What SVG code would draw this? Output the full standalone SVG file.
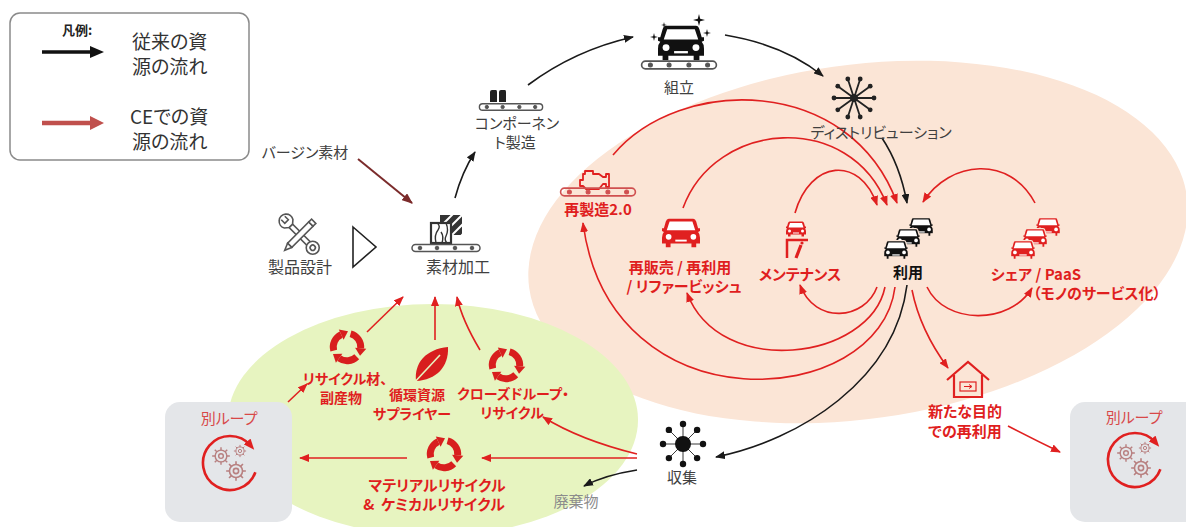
<svg xmlns="http://www.w3.org/2000/svg" xmlns:xlink="http://www.w3.org/1999/xlink" width="1186" height="527" viewBox="0 0 1186 527">
<style>
text{font-family:"Noto Sans CJK JP","Noto Sans",sans-serif;text-anchor:middle;font-feature-settings:"palt" 1;}
.g{fill:#404040;font-size:15px;}
.r{fill:#e01e1e;font-size:15px;font-weight:bold;}
.r14{fill:#e01e1e;font-size:14px;font-weight:bold;}
.k{fill:#111;font-size:15px;font-weight:bold;}
.lg{fill:#333;font-size:19px;text-anchor:start;}
.cb{fill:none;stroke:#1a1a1a;stroke-width:1.6;marker-end:url(#mb);}
.cr{fill:none;stroke:#e02020;stroke-width:1.6;marker-end:url(#mr);}
.gearc{fill:none;stroke:#b88080;stroke-width:1.1;}
</style>
<defs>
<marker id="mr" viewBox="0 0 10 8" refX="9" refY="4" markerWidth="10" markerHeight="8" markerUnits="userSpaceOnUse" orient="auto"><path d="M0,0 L10,4 L0,8 Z" fill="#e02020"/></marker>
<marker id="mb" viewBox="0 0 10 8" refX="9" refY="4" markerWidth="10" markerHeight="8" markerUnits="userSpaceOnUse" orient="auto"><path d="M0,0 L10,4 L0,8 Z" fill="#1a1a1a"/></marker>
<marker id="md" viewBox="0 0 10 8" refX="9" refY="4" markerWidth="11" markerHeight="9" markerUnits="userSpaceOnUse" orient="auto"><path d="M0,0 L10,4 L0,8 Z" fill="#7b2b2b"/></marker>
<marker id="mloop" viewBox="0 0 10 8" refX="5" refY="4" markerWidth="11" markerHeight="9" markerUnits="userSpaceOnUse" orient="auto"><path d="M0,0 L10,4 L0,8 Z" fill="#e02020"/></marker>
<g id="conv" stroke="currentColor" fill="currentColor">
<rect x="-34" y="-3.5" width="68" height="7" rx="3.5" fill="none" stroke-width="1.5"/>
<circle cx="-26" cy="0" r="1.8"/><circle cx="-9" cy="0" r="1.8"/><circle cx="9" cy="0" r="1.8"/><circle cx="26" cy="0" r="1.8"/>
</g>
<g id="car">
<path d="M-13,-15 L13,-15 Q15,-15 16,-12 L18,-5 L20,-5 L20,-2 L18,-1 Q20,1 20,5 L20,11 L16,11 L16,15 L11,15 L11,11 L-11,11 L-11,15 L-16,15 L-16,11 L-20,11 L-20,5 Q-20,1 -18,-1 L-20,-2 L-20,-5 L-18,-5 L-16,-12 Q-15,-15 -13,-15 Z"/>
<path d="M-12,-12 L12,-12 L15,-3 L-15,-3 Z" fill="#fff" stroke="none"/>
<circle cx="-13" cy="4" r="3" fill="#fff" stroke="none"/><circle cx="13" cy="4" r="3" fill="#fff" stroke="none"/>
<rect x="-6" y="7" width="12" height="2" fill="#fff" stroke="none"/>
</g>
<g id="rseg">
<path d="M2.85,-10.63 A11,11 0 0,1 10.96,0.96" fill="none" stroke="currentColor" stroke-width="5.5"/>
<path d="M6.47,0.57 L15.44,1.35 L10.44,6.94 Z" fill="currentColor"/>
</g>
<g id="rcy"><use xlink:href="#rseg"/><use xlink:href="#rseg" transform="rotate(120)"/><use xlink:href="#rseg" transform="rotate(240)"/></g>
<g id="gear" class="gearc">
<circle r="4.5"/><circle r="1.8"/>
<path d="M0,-4.5V-6.8M0,4.5V6.8M-4.5,0H-6.8M4.5,0H6.8M3.2,3.2L4.8,4.8M-3.2,-3.2L-4.8,-4.8M3.2,-3.2L4.8,-4.8M-3.2,3.2L-4.8,4.8"/>
</g>
<g id="loopicon">
<path d="M25.37,9.23 A27,27 0 1,1 20.68,-17.36" fill="none" stroke="#e02020" stroke-width="2.6" marker-end="url(#mloop)"/>
<use xlink:href="#gear" transform="translate(-9,-7) scale(1.3)"/>
<use xlink:href="#gear" transform="translate(10,-12) scale(0.9)"/>
<use xlink:href="#gear" transform="translate(6,8) scale(1.45)"/>
</g>
<clipPath id="clipB"><rect x="440" y="215" width="22" height="20"/></clipPath>
</defs>

<!-- backgrounds -->
<ellipse cx="858" cy="242" rx="332" ry="177" fill="#fbe5d6" transform="rotate(-8 858 242)"/>
<ellipse cx="433" cy="420" rx="205" ry="116" fill="#e7f4c0"/>

<!-- legend -->
<g id="legend">
<rect x="10" y="13" width="239" height="147" rx="10" fill="#fff" stroke="#8a8a8a" stroke-width="1.5"/>
<text x="62" y="35" style="text-anchor:start;font-size:13px;font-weight:bold;fill:#222">凡例:</text>
<line x1="42" y1="52" x2="92" y2="52" stroke="#111" stroke-width="3.5"/>
<path d="M90,46 L104,52 L90,58 Z" fill="#111"/>
<text class="lg" x="132" y="49">従来の資</text>
<text class="lg" x="132" y="74">源の流れ</text>
<line x1="42" y1="123" x2="92" y2="123" stroke="#c0504d" stroke-width="4.5"/>
<path d="M90,116 L104,123 L90,130 Z" fill="#c0504d"/>
<text class="lg" x="130" y="124">CEでの資</text>
<text class="lg" x="132" y="149">源の流れ</text>
</g>

<!-- gray boxes -->
<g id="loop-left">
<rect x="165" y="402" width="127" height="120" rx="15" fill="#e4e6e9"/>
<text x="229" y="424" style="fill:#d84848;font-size:15px">別ループ</text>
<use xlink:href="#loopicon" transform="translate(230,463)"/>
</g>
<g id="loop-right">
<rect x="1070" y="402" width="140" height="120" rx="15" fill="#e4e6e9"/>
<text x="1134" y="423" style="fill:#d84848;font-size:15px">別ループ</text>
<use xlink:href="#loopicon" transform="translate(1135,460)"/>
</g>

<!-- connectors -->
<g id="connectors">
<path class="cb" d="M455,198 Q462,172 475,152"/>
<path class="cb" d="M528,85 Q575,50 633,37"/>
<path class="cb" d="M725,35 Q785,45 823,76"/>
<path class="cb" d="M882,138 Q900,165 907,203"/>
<path class="cb" d="M907,285 C895,380 800,440 716,457"/>
<path class="cb" d="M637,470 Q605,475 584,486"/>
<path d="M358,159 L412,203" fill="none" stroke="#7b2b2b" stroke-width="2" marker-end="url(#md)"/>
<path class="cr" d="M613,155 C680,75 850,75 897,203"/>
<path class="cr" d="M683,208 C715,120 850,110 887,205"/>
<path class="cr" d="M795,213 C810,160 860,155 877,205"/>
<path class="cr" d="M1035,203 C1010,155 950,160 923,202"/>
<path class="cr" d="M927,287 C945,325 1010,325 1032,288"/>
<path class="cr" d="M877,287 C865,320 815,325 800,285"/>
<path class="cr" d="M885,287 C870,360 720,380 687,293"/>
<path class="cr" d="M895,287 C880,410 610,430 583,223"/>
<path class="cr" d="M912,290 Q920,330 948,368"/>
<path class="cr" d="M1008,426 Q1035,440 1060,452"/>
<path class="cr" d="M637,458 L482,458"/>
<path class="cr" d="M407,458 L300,458"/>
<path class="cr" d="M637,454 Q580,440 543,417"/>
<path class="cr" d="M288,402 L307,384"/>
<path class="cr" d="M367,332 L403,297"/>
<path class="cr" d="M435,340 L435,297"/>
<path class="cr" d="M480,350 Q462,320 457,297"/>
</g>

<!-- nodes -->
<g id="virgin"><text class="g" x="305" y="158">バージン素材</text></g>

<g id="design">
<g transform="translate(300,235) rotate(45)" fill="#fff" stroke="#555" stroke-width="1.6">
<rect x="-13" y="-2.5" width="26" height="5"/>
<path d="M-13,-2.5 L-16,-6 A7,7 0 1,0 -16,6 L-13,2.5 Z"/>
<path d="M-24,-2.5 L-19,-2.5 L-19,2.5 L-24,2.5" fill="#fff"/>
<circle cx="18" cy="0" r="6.5"/>
<circle cx="18" cy="0" r="2.6"/>
</g>
<g transform="translate(301,234) rotate(-45)" fill="#fff" stroke="#555" stroke-width="1.6">
<rect x="-16" y="-3" width="30" height="6"/>
<path d="M-16,-3 L-23,0 L-16,3 Z"/>
<rect x="14" y="-3" width="4" height="6"/>
</g>
<text class="g" x="300" y="273" style="font-size:16px">製品設計</text>
</g>

<g id="triangle"><path d="M353,227 L376,247 L353,267 Z" fill="#fff" stroke="#222" stroke-width="1.6"/></g>

<g id="material">
<rect x="440" y="215" width="22" height="20" fill="#333"/>
<g clip-path="url(#clipB)" stroke="#fff" stroke-width="2">
<path d="M436,231 L458,209 M441,236 L463,214 M446,241 L468,219 M451,246 L473,224"/>
</g>
<rect x="431" y="223" width="20" height="20" fill="#fff" stroke="#333" stroke-width="2.2"/>
<path d="M436,243 Q434,235 438,230 Q441,226 437,223 M442,243 Q444,236 441,232 M446,223 Q449,230 446,236 Q444,240 447,243" fill="none" stroke="#333" stroke-width="1.4"/>
<use xlink:href="#conv" transform="translate(446,248)" color="#555"/>
<text class="g" x="458" y="273" style="font-size:16px">素材加工</text>
</g>

<g id="component">
<path d="M490,102 L490,92 Q490,90 492,90 L496,90 Q497,90 497,92 L497,102 Z M499,102 L499,92 Q499,90 501,90 L505,90 Q506,90 506,92 L506,102 Z" fill="#222"/>
<use xlink:href="#conv" transform="translate(511,107) scale(0.93)" color="#555"/>
<text class="g" x="517" y="129">コンポーネン</text>
<text class="g" x="515" y="148">ト製造</text>
</g>

<g id="assembly">
<use xlink:href="#car" transform="translate(681,43) scale(1.15)" fill="#111"/>
<g fill="#111">
<path d="M699,14 L700.2,18.8 L705,20 L700.2,21.2 L699,26 L697.8,21.2 L693,20 L697.8,18.8 Z"/>
<path d="M707,29 L707.8,32.2 L711,33 L707.8,33.8 L707,37 L706.2,33.8 L703,33 L706.2,32.2 Z"/>
<path d="M654,33 L654.8,36.2 L658,37 L654.8,37.8 L654,41 L653.2,37.8 L650,37 L653.2,36.2 Z"/>
<path d="M664,22 L664.6,24.4 L667,25 L664.6,25.6 L664,28 L663.4,25.6 L661,25 L663.4,24.4 Z"/>
</g>
<use xlink:href="#conv" transform="translate(679,65) scale(1.1)" color="#555"/>
<text class="g" x="679" y="93">組立</text>
</g>

<g id="distribution">
<g stroke="#222" stroke-width="1.8" fill="#222">
<path d="M854,98 L874,98 M854,98 L870.2,109.8 M854,98 L860.2,117 M854,98 L847.8,117 M854,98 L837.8,109.8 M854,98 L834,98 M854,98 L837.8,86.2 M854,98 L847.8,79 M854,98 L860.2,79 M854,98 L870.2,86.2"/>
<circle cx="874" cy="98" r="2.4" stroke="none"/><circle cx="870.2" cy="109.8" r="2.4" stroke="none"/><circle cx="860.2" cy="117" r="2.4" stroke="none"/><circle cx="847.8" cy="117" r="2.4" stroke="none"/><circle cx="837.8" cy="109.8" r="2.4" stroke="none"/><circle cx="834" cy="98" r="2.4" stroke="none"/><circle cx="837.8" cy="86.2" r="2.4" stroke="none"/><circle cx="847.8" cy="79" r="2.4" stroke="none"/><circle cx="860.2" cy="79" r="2.4" stroke="none"/><circle cx="870.2" cy="86.2" r="2.4" stroke="none"/>
<circle cx="854" cy="98" r="4" stroke="none"/>
</g>
<text class="g" x="881" y="138">ディストリビューション</text>
</g>

<g id="use">
<use xlink:href="#car" transform="translate(921,227) scale(0.62)" fill="#111" stroke="#fbe5d6" stroke-width="2"/>
<use xlink:href="#car" transform="translate(908,238) scale(0.62)" fill="#111" stroke="#fbe5d6" stroke-width="2"/>
<use xlink:href="#car" transform="translate(896,250) scale(0.62)" fill="#111" stroke="#fbe5d6" stroke-width="2"/>
<text class="k" x="908" y="278">利用</text>
</g>

<g id="reman">
<path d="M585,171 H593 V174 H599 L603,177 H606 V174 H609 V187 H606 V184 H603 L599,189 H586 L583,186 H580 V180 H583 V174 H585 Z" fill="none" stroke="#e02020" stroke-width="1.8" stroke-linejoin="round"/>
<use xlink:href="#conv" transform="translate(598,192) scale(1.1)" color="#d05050"/>
<text class="r" x="598" y="215">再製造2.0</text>
</g>

<g id="resale">
<use xlink:href="#car" transform="translate(681,233) scale(0.95)" fill="#e02020"/>
<text class="r" x="680" y="273">再販売 / 再利用</text>
<text class="r" x="684" y="292">/ リファービッシュ</text>
</g>

<g id="maintenance">
<use xlink:href="#car" transform="translate(796,229) scale(0.5)" fill="#e02020"/>
<path d="M787,258 V240 H808" fill="none" stroke="#e02020" stroke-width="2.5"/>
<path d="M801,245 L796,258" stroke="#e02020" stroke-width="3.2"/>
<circle cx="802" cy="243" r="1.6" fill="#e02020"/>
<text class="r" x="800" y="280">メンテナンス</text>
</g>

<g id="share">
<use xlink:href="#car" transform="translate(1048,227) scale(0.62)" fill="#e02020" stroke="#fbe5d6" stroke-width="2"/>
<use xlink:href="#car" transform="translate(1035,238) scale(0.62)" fill="#e02020" stroke="#fbe5d6" stroke-width="2"/>
<use xlink:href="#car" transform="translate(1023,250) scale(0.62)" fill="#e02020" stroke="#fbe5d6" stroke-width="2"/>
<text class="r" x="1036" y="280">シェア / PaaS</text>
<text class="r" x="1097" y="299">（モノのサービス化）</text>
</g>

<g id="repurpose">
<path d="M947,380 L968,362 L989,380" fill="none" stroke="#e02020" stroke-width="2.2"/>
<path d="M954,375 V397 H982 V375" fill="none" stroke="#e02020" stroke-width="2.2"/>
<rect x="960" y="382" width="16" height="9" fill="none" stroke="#e02020" stroke-width="1.2"/>
<path d="M964,386.5 H971 M969,384.5 L972,386.5 L969,388.5" fill="none" stroke="#e02020" stroke-width="1"/>
<text class="r" x="965" y="417">新たな目的</text>
<text class="r" x="965" y="437">での再利用</text>
</g>

<g id="collect">
<g stroke="#222" stroke-width="0.9" fill="#111">
<path d="M683,444 L703,444 M683,444 L697.1,458.1 M683,444 L683,464 M683,444 L668.9,458.1 M683,444 L663,444 M683,444 L668.9,429.9 M683,444 L683,424 M683,444 L697.1,429.9"/>
<circle cx="703" cy="444" r="3.2" stroke="none"/><circle cx="697.1" cy="458.1" r="3.2" stroke="none"/><circle cx="683" cy="464" r="3.2" stroke="none"/><circle cx="668.9" cy="458.1" r="3.2" stroke="none"/><circle cx="663" cy="444" r="3.2" stroke="none"/><circle cx="668.9" cy="429.9" r="3.2" stroke="none"/><circle cx="683" cy="424" r="3.2" stroke="none"/><circle cx="697.1" cy="429.9" r="3.2" stroke="none"/>
<circle cx="683" cy="444" r="8" stroke="none"/>
</g>
<text class="g" x="682" y="483">収集</text>
</g>

<g id="waste"><text class="g" x="576" y="507" style="fill:#8c8c8c">廃棄物</text></g>

<g id="recycled-material">
<use xlink:href="#rcy" transform="translate(347,347) scale(1.25)" color="#d81e1e"/>
<text class="r14" x="345" y="384">リサイクル材、</text>
<text class="r14" x="341" y="403">副産物</text>
</g>

<g id="supplier">
<path d="M416,381 C414,363 426,349 448,347 C449,367 436,380 416,381 Z" fill="#d81e1e"/>
<path d="M412,385 L440,355" stroke="#e7f4c0" stroke-width="1.6"/>
<text class="r14" x="417" y="400">循環資源</text>
<text class="r14" x="412" y="419">サプライヤー</text>
</g>

<g id="closed-loop">
<use xlink:href="#rcy" transform="translate(506,365) scale(1.25)" color="#d81e1e"/>
<text class="r14" x="513" y="399">クローズドループ・</text>
<text class="r14" x="512" y="418">リサイクル</text>
</g>

<g id="material-recycle">
<use xlink:href="#rcy" transform="translate(444,454) scale(1.25)" color="#d81e1e"/>
<text class="r" x="437" y="491">マテリアルリサイクル</text>
<text class="r" x="434" y="510">&amp;&#160;&#160;ケミカルリサイクル</text>
</g>
</svg>
